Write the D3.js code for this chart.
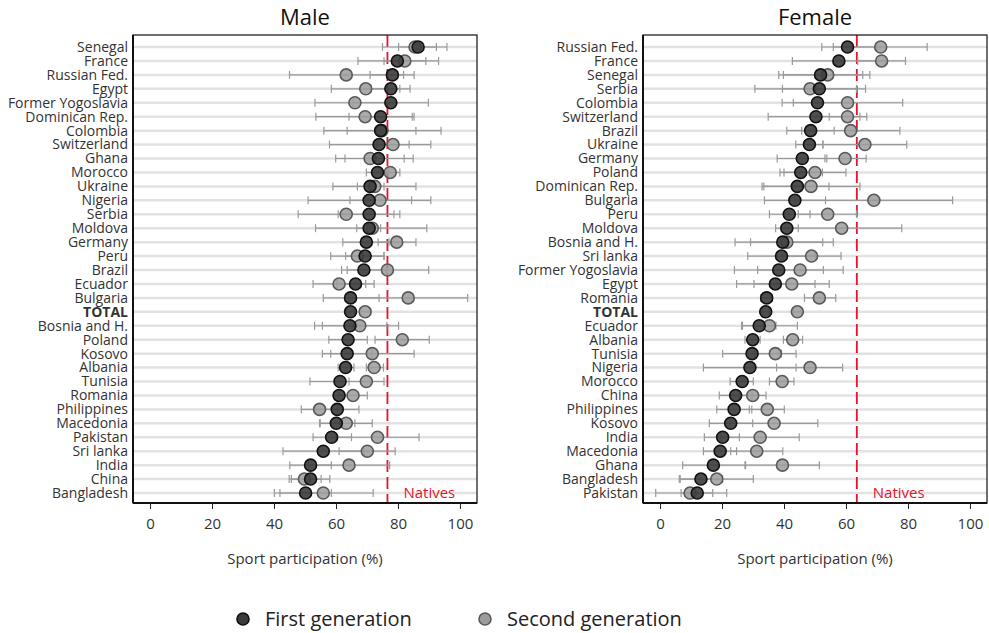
<!DOCTYPE html>
<html>
<head>
<meta charset="utf-8">
<script src="https://cdn.jsdelivr.net/npm/d3@7"></script>
<style>
  body { margin: 0; background: #fff; }
  text { font-family: "Open Sans", sans-serif; fill: #333; }
</style>
</head>
<body>
<svg id="fig"></svg>
<script>
var w = 989, h = 633;

// Male panel
var male_countries = ["Senegal", "France", "Russian Fed.", "Egypt", "Former Yogoslavia", "Dominican Rep.", "Colombia",
  "Switzerland", "Ghana", "Morocco", "Ukraine", "Nigeria", "Serbia", "Moldova", "Germany", "Peru", "Brazil", "Ecuador",
  "Bulgaria", "TOTAL", "Bosnia and H.", "Poland", "Kosovo", "Albania", "Tunisia", "Romania", "Philippines", "Macedonia",
  "Pakistan", "Sri lanka", "India", "China", "Bangladesh"];
var male_first = [86.5, 79.8, 78.2, 77.7, 77.7, 74.4, 74.4, 73.9, 73.7, 73.4, 71, 70.7, 70.7, 70.7, 69.8, 69.4, 69,
  66.3, 64.7, 64.7, 64.5, 63.9, 63.6, 63.1, 61.3, 61, 60.4, 60.1, 58.6, 55.9, 51.8, 51.8, 50.2];
var male_first_lo = [80.2, 67.1, 71, 71.4, 65.6, 64.2, 63.6, 57.9, 62.9, 69.8, 66.9, 51, 60.7, 66.7, 62.2, 63.1, 61.8,
  60.3, 55.9, 63.5, 53.1, 57.7, 55.6, 60.7, 51.6, 59.3, 53.4, 54.7, 52.6, 42.9, 45.1, 45.6, 41.9];
var male_first_hi = [92.4, 93.1, 85.2, 83.9, 89.8, 84.6, 85.8, 90.6, 84.9, 77, 75.5, 90.6, 80.6, 74.4, 77.1, 75.5, 76.3,
  72.3, 73.9, 65.9, 76.4, 70.1, 71.6, 65.8, 71, 62.7, 67.4, 66.1, 65, 69, 58.5, 58, 58.5];
var male_second = [85.5, 82.2, 63.3, 69.6, 66.1, 69.4, 74.8, 78.4, 71, 77.5, 72.5, 74.2, 63.3, 71.7, 79.6, 66.9, 76.6,
  61, 83.3, 69.4, 67.7, 81.4, 71.7, 72.3, 69.8, 65.5, 54.7, 63.3, 73.4, 70.1, 64.2, 49.8, 55.9];
var male_second_lo = [75, 75.5, 45, 58.5, 53.2, 53.5, 56.1, 73.2, 59.9, 74.4, 59, 64.5, 47.8, 53.4, 73.6, 58.3, 63.6,
  52.6, 64.1, 67.6, 55.6, 72.6, 58.3, 69.8, 64.2, 60.9, 48.8, 54.9, 60, 61, 51.1, 44.9, 40.1];
var male_second_hi = [95.8, 89, 81.8, 80.6, 79, 85.2, 93.9, 83.6, 82, 80.6, 85.8, 84.4, 78.7, 89.3, 85.8, 75.5, 89.9,
  69.6, 102.5, 71.2, 80.2, 90.1, 85.2, 75.3, 75.5, 70.1, 60.6, 71.7, 86.8, 79.1, 77.3, 55.2, 72];
var male_natives = 76.6;

// Female panel
var female_countries = ["Russian Fed.", "France", "Senegal", "Serbia", "Colombia", "Switzerland", "Brazil", "Ukraine",
  "Germany", "Poland", "Dominican Rep.", "Bulgaria", "Peru", "Moldova", "Bosnia and H.", "Sri lanka", "Former Yogoslavia",
  "Egypt", "Romania", "TOTAL", "Ecuador", "Albania", "Tunisia", "Nigeria", "Morocco", "China", "Philippines", "Kosovo",
  "India", "Macedonia", "Ghana", "Bangladesh", "Pakistan"];
var female_first = [60.5, 57.7, 51.8, 51.4, 50.8, 50.3, 48.6, 48.2, 45.9, 45.4, 44.3, 43.5, 41.7, 40.9, 39.6, 39.2,
  38.3, 37.2, 34.4, 34.1, 32, 29.9, 29.7, 29, 26.5, 24.4, 23.9, 22.8, 20.2, 19.4, 17.2, 13.2, 12];
var female_first_lo = [52.2, 42.7, 38.3, 39.5, 39.4, 34.9, 40.9, 43.8, 37.8, 38.7, 33.5, 33.7, 35.3, 37.3, 24.2, 28.3,
  24, 24.7, 32.5, 33, 26.3, 27.4, 20.2, 14, 22.6, 19.1, 18.3, 15.9, 14.3, 14, 7.3, 6.2, 6.8];
var female_first_hi = [69.9, 72.7, 65.4, 63.4, 62.2, 64.5, 56.2, 52.5, 53.8, 52.4, 54.5, 53.4, 48.4, 44.6, 55.9, 50.1,
  52.7, 50, 36.3, 35.2, 37.4, 32.3, 39.2, 43.9, 30.1, 29.7, 29.6, 29.9, 25.6, 24.7, 27.4, 20.2, 17];
var female_second = [71.2, 71.5, 54.1, 48.4, 60.5, 60.5, 61.5, 66.1, 59.7, 50, 48.7, 69, 54.1, 58.6, 40.9, 48.9,
  45.2, 42.5, 51.4, 44.3, 35.3, 42.8, 37.2, 48.4, 39.4, 29.9, 34.6, 36.8, 32.3, 31.2, 39.5, 18.3, 9.7];
var female_second_lo = [55.9, 63.8, 39.8, 30.6, 43, 54.6, 45.7, 52.6, 53.2, 40, 32.9, 43.6, 44.6, 39.2, 29.2, 39.4,
  31.5, 30.3, 46.6, 43, 26.6, 39.8, 30.5, 37.6, 35.3, 25.6, 28.8, 22.7, 19.6, 22.8, 27.6, 6.5, -1.4];
var female_second_hi = [86.2, 79.2, 67.7, 66.3, 78.3, 66.7, 77.4, 79.6, 66.5, 60, 64.5, 94.4, 63.4, 78, 52.5, 58.4,
  59.1, 54.6, 56.7, 45.6, 44.3, 46, 43.9, 58.9, 43.2, 34.2, 40.1, 50.9, 44.9, 39.6, 51.4, 30.1, 21.5];
var female_natives = 63.5;

var x_ticks = [0, 20, 40, 60, 80, 100];
var legend_labels = ["First generation", "Second generation"];

var box_top = 35, box_bottom = 503; // plot box
var row_top = 47, row_bottom = 493;

var svg = d3.select("#fig").attr("width", w).attr("height", h);

function drawPanel(left, right, title, countries, first, first_lo, first_hi, second, second_lo, second_hi, natives) {
  var g = svg.append("g");
  var x = d3.scaleLinear().domain([-5.5, 105.5]).range([left, right]);
  var y = d3.scalePoint().domain(countries).range([row_top, row_bottom]);

  // Title
  g.append("text").attr("x", (left + right) / 2).attr("y", 25)
    .attr("text-anchor", "middle").style("font-size", "22px").style("fill", "#111").text(title);

  // Row grid lines
  g.append("g").selectAll("line").data(countries).enter().append("line")
    .attr("x1", left).attr("x2", right)
    .attr("y1", function(d) { return y(d); }).attr("y2", function(d) { return y(d); })
    .style("stroke", "#e2e2e2").style("stroke-width", 2.5);

  // Country labels
  g.append("g").selectAll("text").data(countries).enter().append("text")
    .attr("x", left - 5).attr("y", function(d) { return y(d); })
    .attr("dy", "0.35em").attr("text-anchor", "end")
    .style("font-size", "14px")
    .style("font-weight", function(d) { return d == "TOTAL" ? "bold" : "normal"; })
    .text(function(d) { return d; });

  // Natives line
  g.append("line").attr("x1", x(natives)).attr("x2", x(natives))
    .attr("y1", box_top).attr("y2", box_bottom)
    .style("stroke", "#e8132b").style("stroke-width", 1.8).style("stroke-dasharray", "12,5");
  g.append("text").attr("x", x(natives) + 16).attr("y", y(countries[countries.length - 1]))
    .attr("dy", "0.35em").style("font-size", "15px").style("fill", "#e8132b").text("Natives");

  // Error bars, second generation then first
  var bars = [[second_lo, second_hi], [first_lo, first_hi]];
  bars.forEach(function(b) {
    var eb = g.append("g").selectAll("g").data(countries).enter().append("g")
      .style("stroke", "#9a9a9a").style("stroke-width", 1.2);
    eb.append("line")
      .attr("x1", function(d, i) { return x(b[0][i]); }).attr("x2", function(d, i) { return x(b[1][i]); })
      .attr("y1", function(d) { return y(d); }).attr("y2", function(d) { return y(d); });
    eb.append("line")
      .attr("x1", function(d, i) { return x(b[0][i]); }).attr("x2", function(d, i) { return x(b[0][i]); })
      .attr("y1", function(d) { return y(d) - 4; }).attr("y2", function(d) { return y(d) + 4; });
    eb.append("line")
      .attr("x1", function(d, i) { return x(b[1][i]); }).attr("x2", function(d, i) { return x(b[1][i]); })
      .attr("y1", function(d) { return y(d) - 4; }).attr("y2", function(d) { return y(d) + 4; });
  });

  // Points
  g.append("g").selectAll("circle").data(countries).enter().append("circle")
    .attr("cx", function(d, i) { return x(second[i]); }).attr("cy", function(d) { return y(d); })
    .attr("r", 6).style("fill", "#9c9c9c").style("fill-opacity", 0.85)
    .style("stroke", "#5a5a5a").style("stroke-width", 1.6);
  g.append("g").selectAll("circle").data(countries).enter().append("circle")
    .attr("cx", function(d, i) { return x(first[i]); }).attr("cy", function(d) { return y(d); })
    .attr("r", 6).style("fill", "#3b3b3b").style("fill-opacity", 0.9)
    .style("stroke", "#111").style("stroke-width", 1.6);

  // Box
  g.append("rect").attr("x", left).attr("y", box_top)
    .attr("width", right - left).attr("height", box_bottom - box_top)
    .style("fill", "none").style("stroke", "#222").style("stroke-width", 1.3);
  g.append("line").attr("x1", left).attr("x2", left).attr("y1", box_top).attr("y2", box_bottom)
    .style("stroke", "#111").style("stroke-width", 2);
  g.append("line").attr("x1", left).attr("x2", right).attr("y1", box_bottom).attr("y2", box_bottom)
    .style("stroke", "#111").style("stroke-width", 2);

  // X axis
  var axis = g.append("g").attr("transform", "translate(0," + box_bottom + ")")
    .call(d3.axisBottom(x).tickValues(x_ticks).tickSize(6).tickPadding(9));
  axis.select(".domain").remove();
  axis.selectAll("line").style("stroke", "#222");
  axis.selectAll("text").style("font-size", "15px").style("font-family", "Open Sans, sans-serif").style("fill", "#333");

  g.append("text").attr("x", x(50)).attr("y", 564)
    .attr("text-anchor", "middle").style("font-size", "15px").text("Sport participation (%)");
}

drawPanel(133, 477, "Male", male_countries, male_first, male_first_lo, male_first_hi,
  male_second, male_second_lo, male_second_hi, male_natives);
drawPanel(643, 987, "Female", female_countries, female_first, female_first_lo, female_first_hi,
  female_second, female_second_lo, female_second_hi, female_natives);

// Legend
var leg = svg.append("g").attr("transform", "translate(0,619)");
var leg_x = [243, 485];
var leg_fill = ["#3b3b3b", "#9c9c9c"];
var leg_stroke = ["#111", "#5a5a5a"];
legend_labels.forEach(function(lab, i) {
  leg.append("circle").attr("cx", leg_x[i]).attr("cy", 0).attr("r", 6)
    .style("fill", leg_fill[i]).style("stroke", leg_stroke[i]).style("stroke-width", 1.6);
  leg.append("text").attr("x", leg_x[i] + 22).attr("y", 0).attr("dy", "0.35em")
    .style("font-size", "20px").style("fill", "#222").text(lab);
});
</script>
</body>
</html>
